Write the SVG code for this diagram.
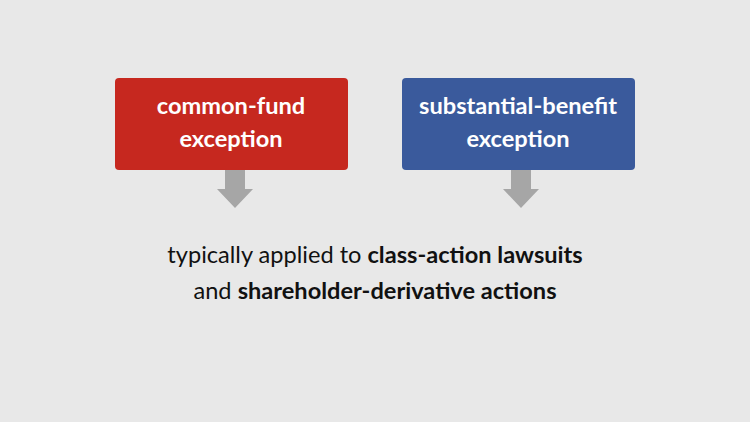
<svg xmlns="http://www.w3.org/2000/svg" width="750" height="422" viewBox="0 0 750 422">
<style>
.bt{font-family:Lato,"Open Sans",sans-serif;font-weight:bold;font-size:23.6px;fill:#fff;text-anchor:middle}
.t{font-family:Lato,"Open Sans",sans-serif;font-size:23.6px;fill:#111;text-anchor:middle}
.ar{fill:#a6a6a6}
</style>
<rect width="750" height="422" fill="#e8e8e8"/>
<g id="common-fund">
<rect x="115" y="78" width="233" height="92" rx="4" fill="#c6281f"/>
<text class="bt" x="231" y="114">common-fund</text>
<text class="bt" x="231" y="147">exception</text>
</g>
<g id="substantial-benefit">
<rect x="402" y="78" width="233" height="92" rx="4" fill="#3a5a9c"/>
<text class="bt" x="518" y="114">substantial-benefit</text>
<text class="bt" x="518" y="147">exception</text>
</g>
<g id="connectors">
<polygon class="ar" points="225,170 245,170 245,189 253,189 235,208 217,189 225,189"/>
<polygon class="ar" points="511,170 531,170 531,189 539,189 521,208 503,189 511,189"/>
</g>
<g id="caption">
<text class="t" x="375" y="263">typically applied to <tspan font-weight="bold">class-action lawsuits</tspan></text>
<text class="t" x="375" y="299">and <tspan font-weight="bold">shareholder-derivative actions</tspan></text>
</g>
</svg>
